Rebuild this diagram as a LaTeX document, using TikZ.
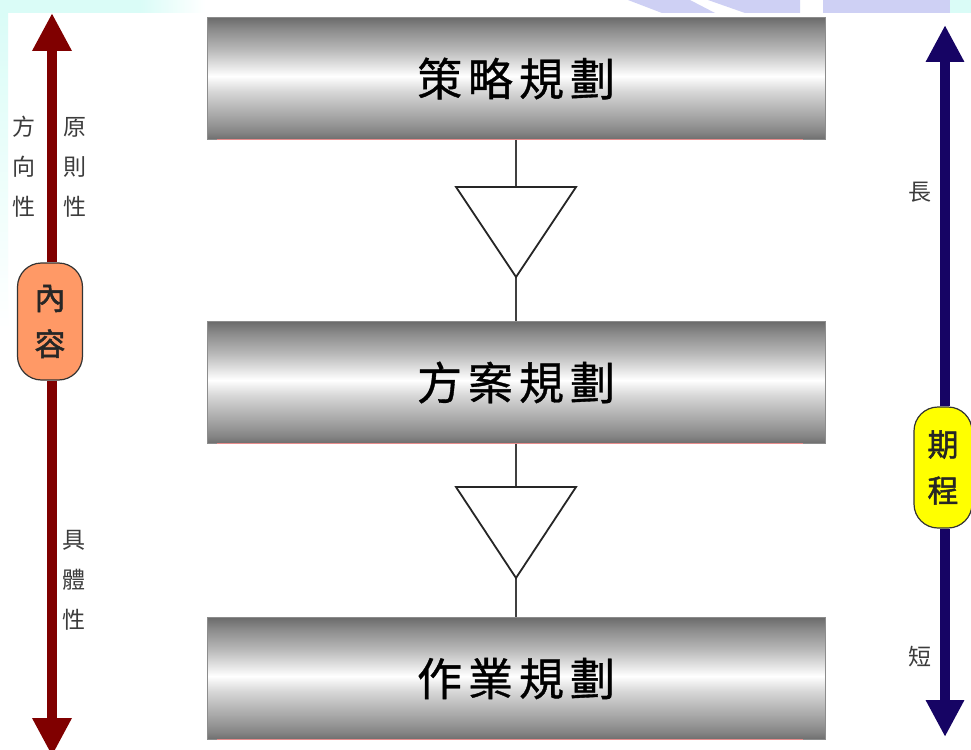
\documentclass[tikz,border=0pt]{standalone}
\usepackage{fontspec}
\usetikzlibrary{arrows.meta}
\newfontfamily\cjk{Noto Sans CJK TC}
\newfontfamily\cjkbold[FakeBold=1.6]{Noto Sans CJK TC}
\newfontfamily\cjkmid[FakeBold=0.8]{Noto Sans CJK TC}
\newcommand\gapx{\hspace{6pt}}
\definecolor{bgcyan}{RGB}{218,252,247}
\definecolor{bglav}{RGB}{206,208,244}
\definecolor{arrred}{RGB}{128,0,0}
\definecolor{arrnavy}{RGB}{22,4,100}
\definecolor{ovalorange}{RGB}{255,153,102}
\definecolor{ovalyellow}{RGB}{255,255,0}
\definecolor{labelgray}{RGB}{60,60,60}
\definecolor{pinkline}{RGB}{232,140,140}
\pgfdeclareverticalshading{cylgray}{100bp}{%
  color(0bp)=(black!57);
  color(25bp)=(black!57);
  color(28bp)=(black!48);
  color(35bp)=(black!34);
  color(45bp)=(black!15);
  color(51bp)=(white);
  color(62bp)=(black!28);
  color(70bp)=(black!45);
  color(75bp)=(black!58);
  color(100bp)=(black!58)}
\tikzset{
  planbox/.style={shape=rectangle, shading=cylgray, draw=black!45, line width=0.8pt,
    minimum width=618pt, minimum height=122pt, inner sep=0pt,
    font=\cjkmid\fontsize{45}{50}\selectfont, text=black},
  link/.style={draw=black!75, line width=2pt},
  tri/.style={draw=black!85, fill=white, line width=1.8pt, line join=miter},
  redarrow/.style={draw=arrred, line width=10pt, -{Triangle[width=37pt,length=38pt]}},
  navyarrow/.style={draw=arrnavy, line width=10pt, -{Triangle[width=36pt,length=37pt]}},
  ovalbox/.style={shape=rectangle, rounded corners=24pt, draw=black!80, line width=1.2pt,
    inner sep=0pt, align=center, font=\cjkbold\fontsize{31}{46}\selectfont, text=black!85},
  sidelabel/.style={align=center, inner sep=0pt, text=labelgray,
    font=\cjk\fontsize{23}{40}\selectfont},
}
\begin{document}
\begin{tikzpicture}[x=1pt,y=-1pt]
\useasboundingbox (0,0) rectangle (971,749);
\fill[white] (0,0) rectangle (971,749);
% background decorations
\fill[bgcyan] (0,0) rectangle (140,13);
\shade[left color=bgcyan, right color=white] (140,0) rectangle (205,13);
\shade[top color=bgcyan, bottom color=white] (0,13) rectangle (8,330);
\fill[bglav] (628,0) -- (690,0) -- (715,13) -- (662,13) -- cycle;
\fill[bglav] (708,0) -- (800,0) -- (800,13) -- (745,13) -- cycle;
\fill[bglav] (823,0) rectangle (950,13);
\fill[bgcyan] (950,0) rectangle (971,13);
% plan boxes
\node[planbox] (b1) at (516,78.5) {策\gapx 略\gapx 規\gapx 劃};
\node[planbox] (b2) at (516,382.5) {方\gapx 案\gapx 規\gapx 劃};
\node[planbox] (b3) at (516,678.5) {作\gapx 業\gapx 規\gapx 劃};
\foreach \b in {b1,b2,b3}{
  \draw[pinkline, line width=1pt] ([xshift=10pt]\b.south west) -- ([xshift=-22pt]\b.south east);
}
% triangles
\coordinate (t1top) at (516,187);
\coordinate (t1apex) at (516,277);
\coordinate (t2top) at (516,487);
\coordinate (t2apex) at (516,578);
\draw[link] (b1.south) -- (t1top);
\draw[link] (t1apex) -- (b2.north);
\draw[link] (b2.south) -- (t2top);
\draw[link] (t2apex) -- (b3.north);
\draw[tri] (456,187) -- (576,187) -- (t1apex) -- cycle;
\draw[tri] (456,487) -- (576,487) -- (t2apex) -- cycle;
% left axis
\node[ovalbox, fill=ovalorange, minimum width=65pt, minimum height=117pt] (lo) at (50,321.5) {內\\容};
\coordinate (ltop) at (52,13);
\coordinate (lbot) at (52,756);
\draw[redarrow] ([xshift=2pt]lo.north) -- (ltop);
\draw[redarrow] ([xshift=2pt]lo.south) -- (lbot);
\node[sidelabel] (lab1) at (24,167) {方\\向\\性};
\node[sidelabel] (lab2) at (75,167) {原\\則\\性};
\node[sidelabel] (lab3) at (74,580) {具\\體\\性};
% right axis
\node[ovalbox, fill=ovalyellow, minimum width=58pt, minimum height=121pt] (ro) at (943,467.5) {期\\程};
\coordinate (rtop) at (945,25);
\coordinate (rbot) at (945,737);
\draw[navyarrow] ([xshift=2pt]ro.north) -- (rtop);
\draw[navyarrow] ([xshift=2pt]ro.south) -- (rbot);
\node[sidelabel] (lab4) at (920,192) {長};
\node[sidelabel] (lab5) at (920,657) {短};
\end{tikzpicture}
\end{document}
